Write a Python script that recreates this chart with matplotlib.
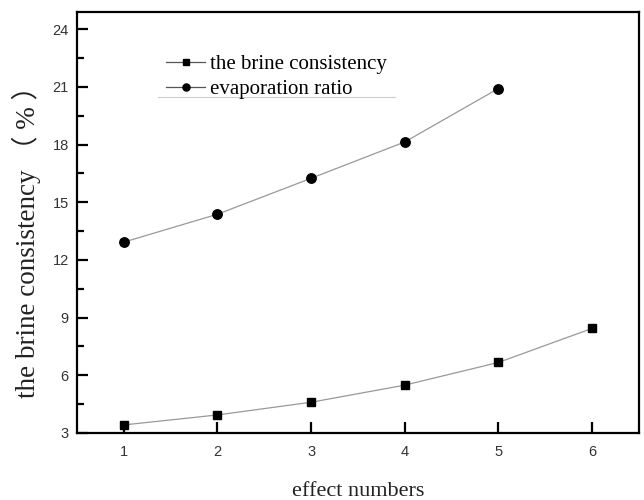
import numpy as np
import matplotlib.pyplot as plt
from matplotlib.ticker import MultipleLocator

# effect numbers
effects_brine = [1, 2, 3, 4, 5, 6]
effects_evap = [1, 2, 3, 4, 5]
# the brine consistency (%)
brine = [3.42, 3.94, 4.6, 5.49, 6.67, 8.44]
# evaporation ratio
evap = [12.93, 14.38, 16.25, 18.14, 20.92]

y_ticks = [3, 6, 9, 12, 15, 18, 21, 24]

fig = plt.figure(figsize=(6.44, 5.0), dpi=100)
ax = fig.add_axes([0.1196, 0.134, 0.8724, 0.842])

ax.plot(effects_brine, brine, color='#999999', lw=0.9, marker='s', ms=5.8,
        mfc='black', mec='black', label='the brine consistency')
ax.plot(effects_evap, evap, color='#999999', lw=0.9, marker='o', ms=6.8,
        mfc='black', mec='black', label='evaporation ratio')

ax.set_xlim(0.5, 6.5)
ax.set_ylim(3, 24.9)
ax.set_yticks(y_ticks)
ax.set_xticks(effects_brine)
ax.yaxis.set_minor_locator(MultipleLocator(1.5))

for s in ax.spines.values():
    s.set_linewidth(1.6)
ax.tick_params(axis='both', which='major', direction='in', length=8, width=1.6,
               labelsize=10.5, colors='black')
ax.tick_params(axis='x', pad=9)
ax.tick_params(axis='y', pad=6)
ax.tick_params(axis='y', which='minor', direction='in', length=5, width=1.6)
ax.tick_params(top=False, right=False)
for lab in ax.get_xticklabels() + ax.get_yticklabels():
    lab.set_family('Liberation Sans')
    lab.set_color('#333333')

ax.set_xlabel('effect numbers', family='Liberation Serif', fontsize=16,
              color='#222222')
ax.xaxis.set_label_coords(0.5, -0.116)
ax.set_ylabel('the brine consistency （ % ）',
              family=['Liberation Serif', 'Noto Sans CJK SC'], fontsize=19.5,
              color='#222222')
ax.yaxis.set_label_coords(-0.064, 0.47)

leg = ax.legend(loc='upper left', bbox_to_anchor=(0.158, 0.899), frameon=False,
                prop={'family': 'Liberation Serif', 'size': 15},
                handlelength=1.9, handletextpad=0.2, labelspacing=0.25,
                borderaxespad=0, borderpad=0, markerscale=0.75)
for h in leg.get_lines():
    h.set_color('#555555')

# thin rule below the legend
ax.plot([0.144, 0.566], [0.798, 0.798], transform=ax.transAxes,
        color='#cccccc', lw=0.8)

fig.savefig('out.png', dpi=100)
